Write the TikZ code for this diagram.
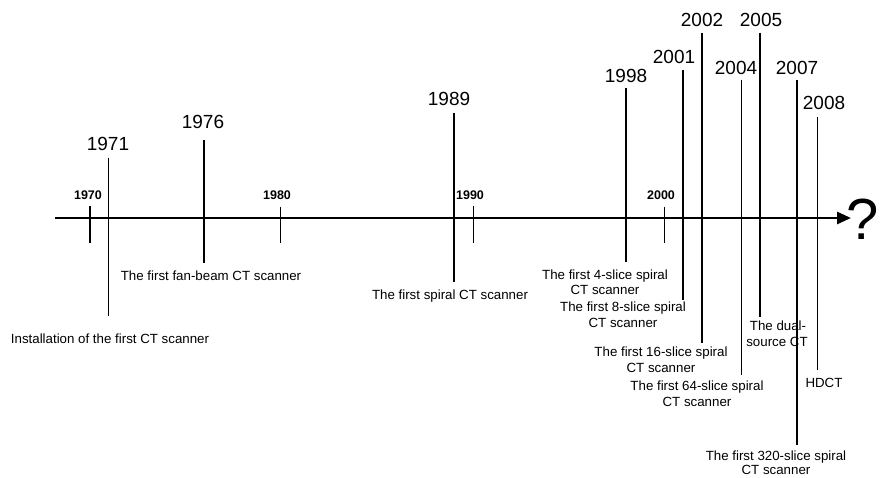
\documentclass[tikz,border=0pt]{standalone}
\usepackage{fontspec}
\setmainfont{Liberation Sans}
\usetikzlibrary{arrows.meta}
\tikzset{
  big/.style={font=\fontsize{19}{19}\selectfont, anchor=base, inner sep=0pt},
  small/.style={font=\fontsize{12.5}{12.5}\selectfont\bfseries, anchor=base, inner sep=0pt},
  desc/.style={font=\fontsize{13.3}{13.3}\selectfont, anchor=base, inner sep=0pt},
  lthin/.style={line width=0.8pt},
  lmed/.style={line width=1.6pt},
  lthick/.style={line width=2.8pt},
  axisline/.style={line width=2.8pt, -{Triangle[length=14pt,width=12pt]}},
}
\begin{document}
\begin{tikzpicture}[x=1pt,y=-1pt]
\useasboundingbox (0,0) rectangle (880,478);
% axis
\coordinate (a0) at (55,218);
\coordinate (a1) at (851,218);
\draw[axisline] (a0) -- (a1);
\node[font=\fontsize{58}{58}\selectfont, anchor=base, inner sep=0pt] (q) at (863,240) {?};

% decade ticks
\node[small] (y1970) at (88,200) {1970};
\draw[lmed] (90,206) coordinate (t70) -- (90,243) coordinate (b70);
\node[small] (y1980) at (277,200) {1980};
\draw[lthin] (280,207) coordinate (t80) -- (280,243) coordinate (b80);
\node[small] (y1990) at (470,200) {1990};
\draw[lthin] (473,206) coordinate (t90) -- (473,243) coordinate (b90);
\node[small] (y2000) at (661,200) {2000};
\draw[lthin] (664,207) coordinate (t00) -- (664,243) coordinate (b00);

% events
\node[big] (y1971) at (108,151) {1971};
\draw[lthin] (108,158) coordinate (t71) -- (108,316) coordinate (b71);
\node[desc] (d71) at (110,343) {Installation of the first CT scanner};

\node[big] (y1976) at (203,129) {1976};
\draw[lthick] (204,140) coordinate (t76) -- (204,263) coordinate (b76);
\node[desc] (d76) at (211,280) {The first fan-beam CT scanner};

\node[big] (y1989) at (449,106) {1989};
\draw[lmed] (454,113) coordinate (t89) -- (454,282) coordinate (b89);
\node[desc] (d89) at (450,299) {The first spiral CT scanner};

\node[big] (y1998) at (626,83) {1998};
\draw[lthick] (626,88) coordinate (t98) -- (626,262) coordinate (b98);
\node[desc] (d98) at (605,279) {The first 4-slice spiral};
\node[desc] (d98b) at (605,294) {CT scanner};

\node[big] (y2001) at (674,64) {2001};
\draw[lmed] (683,70) coordinate (t01) -- (683,300) coordinate (b01);
\node[desc] (d01) at (623,311) {The first 8-slice spiral};
\node[desc] (d01b) at (623,327) {CT scanner};

\node[big] (y2002) at (702,27) {2002};
\draw[lmed] (702,33) coordinate (t02) -- (702,343) coordinate (b02);
\node[desc] (d02) at (661,356) {The first 16-slice spiral};
\node[desc] (d02b) at (661,372) {CT scanner};

\node[big] (y2004) at (736,75) {2004};
\draw[lthin] (741,80) coordinate (t04) -- (741,375) coordinate (b04);
\node[desc] (d04) at (697,390) {The first 64-slice spiral};
\node[desc] (d04b) at (697,406) {CT scanner};

\node[big] (y2005) at (761,27) {2005};
\draw[lmed] (760,33) coordinate (t05) -- (760,317) coordinate (b05);
\node[desc] (d05) at (778,330) {The dual-};
\node[desc] (d05b) at (777,346) {source CT};

\node[big] (y2007) at (797,75) {2007};
\draw[lthick] (797,80) coordinate (t07) -- (797,445) coordinate (b07);
\node[desc] (d07) at (776,460) {The first 320-slice spiral};
\node[desc] (d07b) at (776,474) {CT scanner};

\node[big] (y2008) at (824,110) {2008};
\draw[lthin] (817,117) coordinate (t08) -- (817,370) coordinate (b08);
\node[desc] (d08) at (824,387) {HDCT};
\end{tikzpicture}
\end{document}
